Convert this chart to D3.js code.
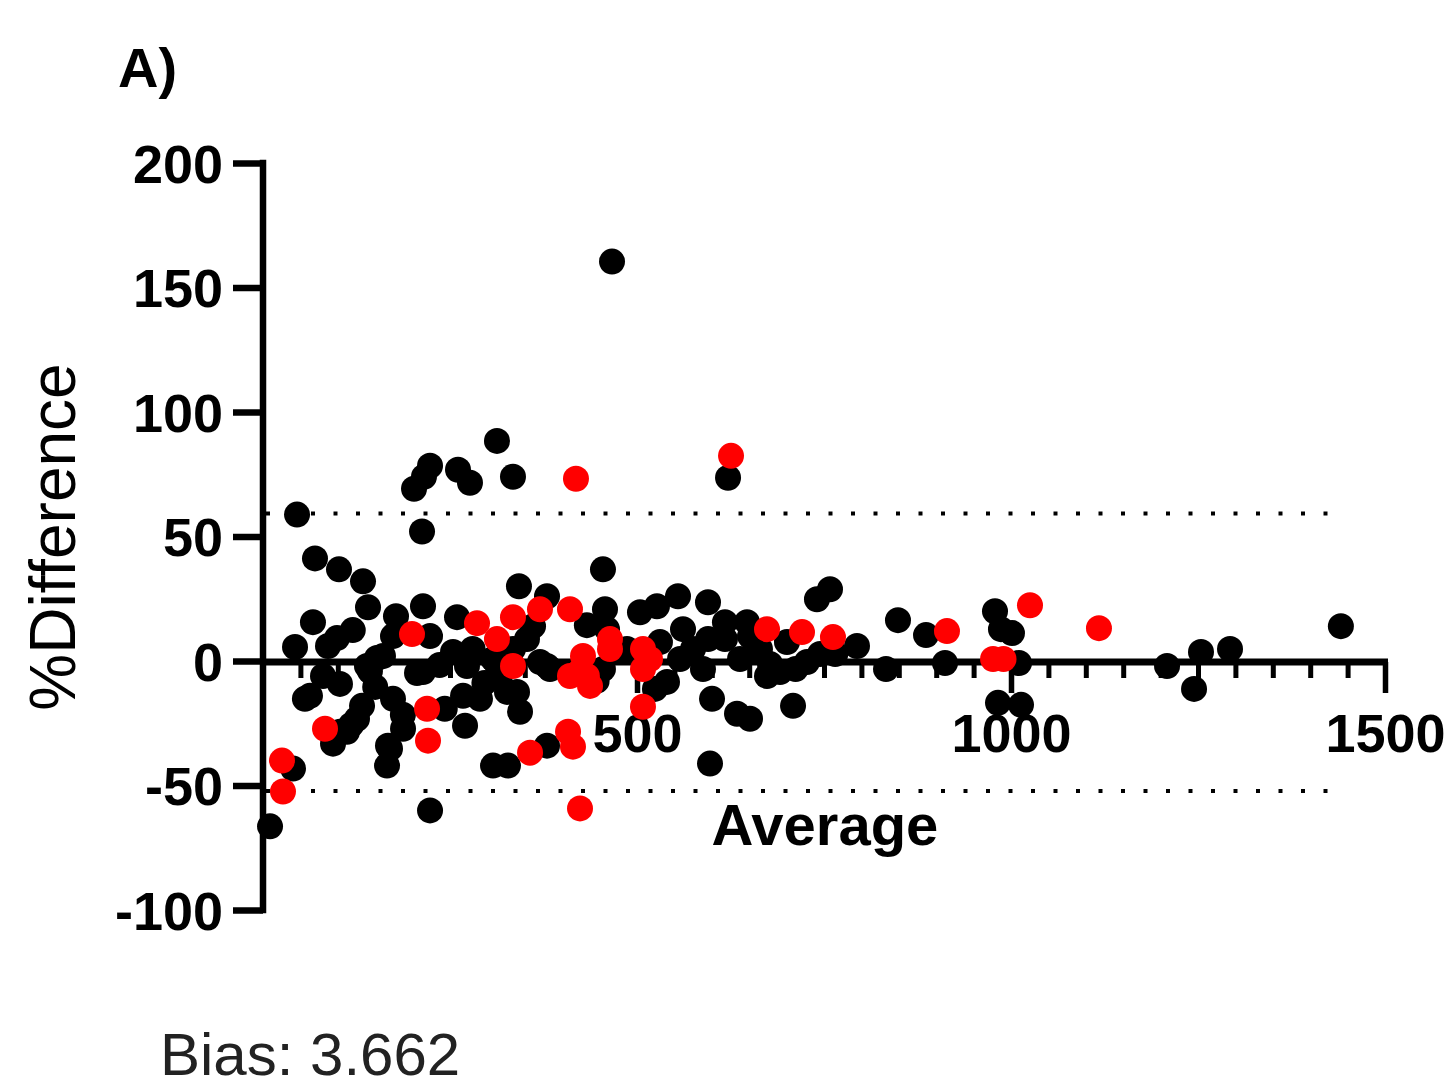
<!DOCTYPE html>
<html>
<head>
<meta charset="utf-8">
<script src="https://cdn.jsdelivr.net/npm/d3@7"></script>
<style>
  html, body { margin: 0; padding: 0; background: #fff; }
  svg { display: block; }
  text { font-family: "Liberation Sans", Arial, sans-serif; }
</style>
</head>
<body>
<svg id="chart" width="1448" height="1088"></svg>
<script>
// ---- Data ----
const panelLabel = "A)";
const xLabel = "Average";
const yLabel = "%Difference";
const biasText = "Bias: 3.662";
const xMajorTicks = [500, 1000, 1500];
const xMinorTicks = d3.range(0, 1501, 50);
const yTicks = [-100, -50, 0, 50, 100, 150, 200];
const limitsOfAgreement = [59.2, -52.2];

const blackPoints = [
  [466.6,160.4],[312.8,88.4],[334.2,74],[223.3,78.4],[215.2,74],[201.9,69.2],[260.7,76.8],[276.7,71.6],
  [212.6,52],[45.5,58.8],[621.7,73.6],[69.5,41.2],[101.6,36.8],[133.7,32],[140.4,21.6],[177.8,18],
  [213.9,22],[223.3,10],[66.8,15.6],[98.9,9.2],[86.9,6],[42.8,5.6],[152.4,1.2],[173.8,10],[259.4,17.6],
  [342.2,30],[379.7,26],[361,14],[80.2,-6],[102.9,-9.2],[62.8,-14],[143,-4],[205.9,-4.8],[132.4,-18],
  [173.8,-15.2],[187.2,-27.2],[102.9,-28.4],[93.6,-33.2],[167.1,-34],[165.8,-42],[40.1,-43.2],[254,3.6],
  [272.7,-2],[267.4,-14],[270.1,-26],[334.2,4.8],[370.3,-0.4],[316.8,-6],[339.6,-12.4],[343.6,-20.4],
  [213.9,-4.4],[379.7,-34],[307.5,-42],[327.5,-42],[454.5,36.8],[457.2,20.8],[459.9,12.8],[504,19.6],
  [526.7,22],[554.8,26],[594.9,23.6],[617.6,15.6],[647.1,15.6],[758,28.8],[740.6,24.8],[794.1,6],
  [530.7,7.6],[561.5,12.8],[574.9,4.8],[588.2,-3.2],[651.1,10],[700.5,7.6],[673.8,-6],[691.2,-4.4],
  [727.3,-0.4],[379.7,-2],[454.5,-3.2],[540.1,-8.4],[600.3,-15.2],[633.7,-21.2],[651.1,-23.2],[708.6,-18],
  [597.6,-41.2],[832.9,-3.2],[848.9,16.4],[886.4,10.4],[911.8,-0.8],[978.6,20],[986.6,12.8],[1001.3,11.2],
  [1010.7,-0.8],[982.6,-16.8],[1013.4,-17.6],[1208.6,-2],[1244.7,-11.2],[1254,3.6],[1292.8,4.8],[1441,14],
  [9.4,-66.4],[223.3,-60],[139,-2],[160.4,2],[112.3,-28.4],[125.7,-23.2],[169.8,-35.2],[290.1,-15.2],
  [330.2,0.8],[326.2,-12.4],[383.7,-3.2],[280.2,4.8],[307.5,0.8],[352.9,8.8],[486.6,4.8],[557.5,0.8],
  [617.6,8.8],[637.7,0.8],[664.4,4.8],[677.8,-1.2],[744.7,2.8],[524,-11.2],
  [118,-25.6],[150,-10.4],[187,-21.6],[120,12.4],[56,-15.2],[236,-1.6],[296,-8.8],[243,-19.2],
  [595,8.8],[712,-3.2],[765,2.8],[433,14.4],[446,-8]
];

const redPoints = [
  [625.7,82.4],[418.4,73.2],[199.2,10.8],[286.1,15.2],[334.2,17.6],[410.4,20.8],[370.3,20.8],[312.8,8.8],
  [334.2,-2],[410.4,-6],[407.8,-28.4],[414.4,-34.4],[357,-36.8],[82.9,-27.2],[219.3,-19.2],[220.6,-32],
  [25.4,-40],[26.7,-52.4],[423.8,-59.2],[437.2,-10],[427.8,2],[463.9,4.8],[517.4,0.8],[508,-3.2],
  [508,-18.4],[673.8,12.8],[720.6,11.6],[762,9.6],[914.4,12],[976,0.8],[990,0.8],[1025.4,22.4],
  [1117.6,13.2],[463.9,8.8],[508,4.8],[424,-4],[433,-6]
];

// ---- Chart ----
const svg = d3.select("#chart");
const x = d3.scaleLinear().domain([0, 1500]).range([263, 1385]);
const y = d3.scaleLinear().domain([-100, 200]).range([910, 163]);
const AXW = 6.5;
const fmt = d => String(d).replace("\u2212", "-");

// Panel label
svg.append("text").attr("x", 118).attr("y", 87)
  .attr("font-size", 56).attr("font-weight", "bold").text(panelLabel);

// Limits of agreement (dotted)
svg.append("g").selectAll("line").data(limitsOfAgreement).join("line")
  .attr("x1", 266).attr("x2", 1346)
  .attr("y1", d => y(d)).attr("y2", d => y(d))
  .attr("stroke", "#000").attr("stroke-width", 4)
  .attr("stroke-dasharray", "4 18.5");

// Y axis
const gy = svg.append("g").attr("transform", `translate(${x(0)},0)`)
  .call(d3.axisLeft(y).tickValues(yTicks).tickSize(30).tickPadding(10).tickSizeOuter(0).tickFormat(fmt));
gy.select(".domain").attr("stroke-width", AXW).attr("stroke-linecap", "square")
  .attr("d", `M0,${y(200)}V${y(-100)}`);
gy.selectAll(".tick line").attr("stroke-width", AXW);
gy.selectAll(".tick text").attr("font-size", 54).attr("font-weight", "bold")
  .attr("font-family", "Liberation Sans, Arial, sans-serif").attr("fill", "#000").attr("dy", "0.36em");

// X axis minor ticks
const gxMinor = svg.append("g").attr("transform", `translate(0,${y(0)+1})`)
  .call(d3.axisBottom(x).tickValues(xMinorTicks.filter(v => v > 0 && v % 500 !== 0)).tickSize(16).tickFormat(""));
gxMinor.select(".domain").remove();
gxMinor.selectAll(".tick line").attr("stroke-width", 5);

// X axis major ticks + domain
const gx = svg.append("g").attr("transform", `translate(0,${y(0)+1})`)
  .call(d3.axisBottom(x).tickValues(xMajorTicks).tickSize(31).tickSizeOuter(0).tickFormat(fmt));
gx.select(".domain").attr("stroke-width", AXW + 0.5).attr("d", `M${x(0)},0H${x(1500)+3}`);
gx.selectAll(".tick line").attr("stroke-width", 5.5);
gx.selectAll(".tick text").attr("font-size", 54).attr("font-weight", "bold")
  .attr("font-family", "Liberation Sans, Arial, sans-serif").attr("fill", "#000")
  .attr("y", 90).attr("dy", 0);

// Axis titles
svg.append("text").attr("x", (x(0)+x(1500))/2 + 1).attr("y", 845)
  .attr("text-anchor", "middle").attr("font-size", 58).attr("font-weight", "bold").text(xLabel);
svg.append("text").attr("transform", `translate(75,537) rotate(-90)`)
  .attr("text-anchor", "middle").attr("font-size", 64).text(yLabel);

// Points
svg.append("g").selectAll("circle").data(blackPoints).join("circle")
  .attr("cx", d => x(d[0])).attr("cy", d => y(d[1])).attr("r", 13).attr("fill", "#000");
svg.append("g").selectAll("circle").data(redPoints).join("circle")
  .attr("cx", d => x(d[0])).attr("cy", d => y(d[1])).attr("r", 13).attr("fill", "#ff0000");

// Bias
svg.append("text").attr("x", 160).attr("y", 1075)
  .attr("font-size", 60).attr("fill", "#222").text(biasText);
</script>
</body>
</html>
